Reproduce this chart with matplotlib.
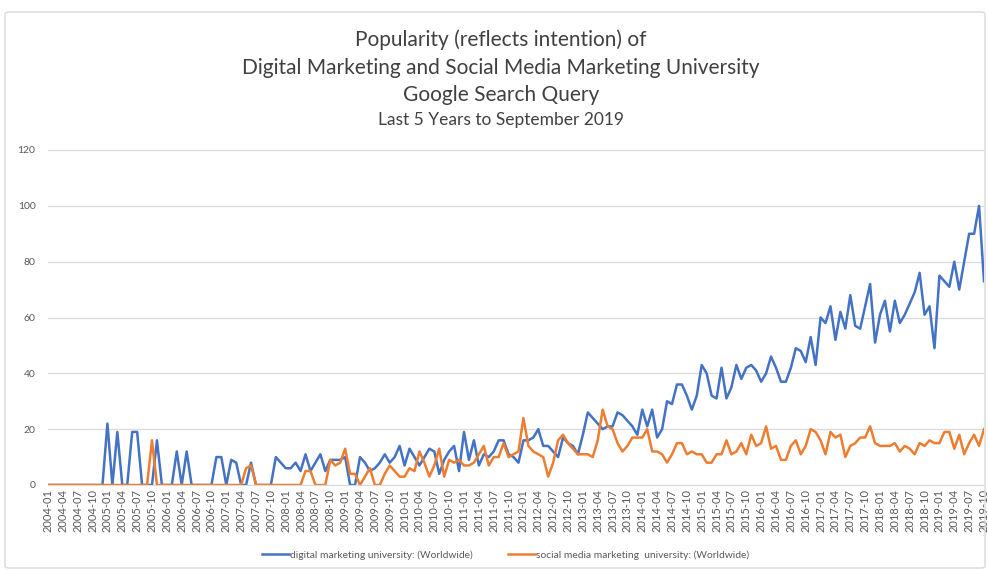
import matplotlib
matplotlib.use("Agg")
import matplotlib.pyplot as plt
from matplotlib.patches import FancyBboxPatch

plt.rcParams['font.family'] = ['Lato', 'DejaVu Sans']

# Months 2004-01 .. 2019-10
months = [f"{y}-{m:02d}" for y in range(2004, 2020) for m in range(1, 13)][:190]

digital = [
    # 2004
    0, 0, 0, 0, 0, 0, 0, 0, 0, 0, 0, 0,
    # 2005
    22, 0, 19, 0, 0, 19, 19, 0, 0, 0, 16, 0,
    # 2006
    0, 0, 12, 0, 12, 0, 0, 0, 0, 0, 10, 10,
    # 2007
    0, 9, 8, 0, 0, 8, 0, 0, 0, 0, 10, 8,
    # 2008
    6, 6, 8, 5, 11, 5, 8, 11, 5, 9, 9, 9,
    # 2009
    10, 0, 0, 10, 8, 5, 6, 8, 11, 8, 10, 14,
    # 2010
    7, 13, 10, 7, 10, 13, 12, 4, 9, 12, 14, 5,
    # 2011
    19, 9, 16, 7, 11, 10, 12, 16, 16, 11, 10, 8,
    # 2012
    16, 16, 17, 20, 14, 14, 12, 10, 17, 15, 14, 11,
    # 2013
    18, 26, 24, 22, 20, 21, 21, 26, 25, 23, 21, 18,
    # 2014
    27, 21, 27, 17, 20, 30, 29, 36, 36, 32, 27, 32,
    # 2015
    43, 40, 32, 31, 42, 31, 35, 43, 38, 42, 43, 41,
    # 2016
    37, 40, 46, 42, 37, 37, 42, 49, 48, 44, 53, 43,
    # 2017
    60, 58, 64, 52, 62, 56, 68, 57, 56, 64, 72, 51,
    # 2018
    61, 66, 55, 66, 58, 61, 65, 69, 76, 61, 64, 49,
    # 2019
    75, 73, 71, 80, 70, 80, 90, 90, 100, 73,
]

social = [
    # 2004
    0, 0, 0, 0, 0, 0, 0, 0, 0, 0, 0, 0,
    # 2005
    0, 0, 0, 0, 0, 0, 0, 0, 0, 16, 0, 0,
    # 2006
    0, 0, 0, 0, 0, 0, 0, 0, 0, 0, 0, 0,
    # 2007
    0, 0, 0, 0, 6, 7, 0, 0, 0, 0, 0, 0,
    # 2008
    0, 0, 0, 0, 5, 5, 0, 0, 0, 9, 7, 8,
    # 2009
    13, 4, 4, 0, 3, 6, 0, 0, 4, 7, 5, 3,
    # 2010
    3, 6, 5, 12, 8, 3, 7, 13, 3, 9, 8, 9,
    # 2011
    7, 7, 8, 11, 14, 7, 10, 10, 15, 10, 11, 12,
    # 2012
    24, 14, 12, 11, 10, 3, 8, 16, 18, 15, 13, 11,
    # 2013
    11, 11, 10, 16, 27, 21, 20, 15, 12, 14, 17, 17,
    # 2014
    17, 20, 12, 12, 11, 8, 11, 15, 15, 11, 12, 11,
    # 2015
    11, 8, 8, 11, 11, 16, 11, 12, 15, 11, 18, 14,
    # 2016
    15, 21, 13, 14, 9, 9, 14, 16, 11, 14, 20, 19,
    # 2017
    16, 11, 19, 17, 18, 10, 14, 15, 17, 17, 21, 15,
    # 2018
    14, 14, 14, 15, 12, 14, 13, 11, 15, 14, 16, 15,
    # 2019
    15, 19, 19, 13, 18, 11, 15, 18, 14, 20,
]

series_labels = ["digital marketing university: (Worldwide)",
                 "social media marketing  university: (Worldwide)"]
title_lines = ["Popularity (reflects intention) of",
               "Digital Marketing and Social Media Marketing University",
               "Google Search Query"]
subtitle = "Last 5 Years to September 2019"
yticks = [0, 20, 40, 60, 80, 100, 120]

W, H = 988, 570
fig = plt.figure(figsize=(W / 100, H / 100), dpi=100)
fig.patch.set_facecolor('white')

# chart border
border = FancyBboxPatch((5 / W, 2 / H), (W - 8) / W, (H - 14) / H,
                        boxstyle="round,pad=0,rounding_size=0.004",
                        transform=fig.transFigure, fill=False,
                        edgecolor='#d9d9d9', linewidth=1.0)
fig.patches.append(border)

left, right, bottom, top = 48, 984, 485, 150
ax = fig.add_axes([left / W, 1 - bottom / H, (right - left) / W, (bottom - top) / H])

x = list(range(len(months)))
ax.plot(x, digital, color='#4472C4', lw=1.8, label=series_labels[0], solid_joinstyle='round')
ax.plot(x, social, color='#ED7D31', lw=1.8, label=series_labels[1], solid_joinstyle='round')

ax.set_xlim(0, len(months) - 1)
ax.set_ylim(0, 120)
ax.set_yticks(yticks)
ax.set_yticklabels([str(v) for v in yticks], fontsize=7.5, color='#595959')
ax.yaxis.grid(True, color='#d9d9d9', lw=0.9)
ax.set_axisbelow(True)
for s in ['top', 'right', 'left']:
    ax.spines[s].set_visible(False)
ax.spines['bottom'].set_color('#d9d9d9')
ax.tick_params(axis='y', length=0, pad=9)
ax.set_xticks(x[::3])
ax.set_xticklabels(months[::3], rotation=90, fontsize=8, color='#595959')
ax.tick_params(axis='x', length=0, pad=3)

for i, line in enumerate(title_lines):
    fig.text(0.507, 1 - (40 + 27.5 * i) / H, line, ha='center', va='center',
             fontsize=15, color='#404040')
fig.text(0.507, 1 - 120 / H, subtitle, ha='center', va='center',
         fontsize=12.5, color='#404040')

fig.legend(loc='center', bbox_to_anchor=(505.5 / W, 1 - 555 / H), ncol=2,
           frameon=False, fontsize=7.4, handlelength=2.6, handletextpad=0.05,
           columnspacing=3.5, labelcolor='#595959')

fig.savefig('out.png', dpi=100)
